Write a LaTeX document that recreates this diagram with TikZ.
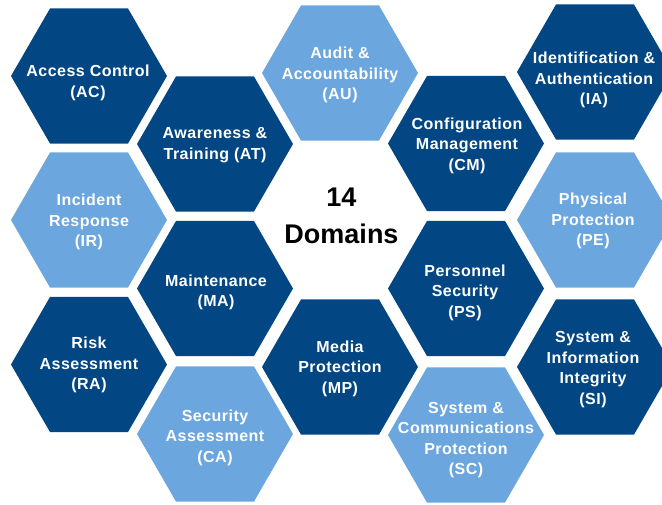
\documentclass[tikz,border=0pt]{standalone}
\usepackage{fontspec}
\setmainfont{Liberation Sans}
\newfontfamily\hexfont[LetterSpace=3]{Liberation Sans}
\usetikzlibrary{shapes.geometric}
\definecolor{navy}{RGB}{2,71,131}
\definecolor{sky}{RGB}{108,166,222}
\tikzset{
  hexbox/.style={regular polygon, regular polygon sides=6, minimum size=156pt,
    inner sep=0pt, draw=none},
  darkhex/.style={hexbox, fill=navy},
  lighthex/.style={hexbox, fill=sky},
  hexlabel/.style={text=white, align=center, inner sep=0pt,
    font=\hexfont\fontsize{16}{20.5}\selectfont\bfseries},
  titlelabel/.style={text=black, align=center, inner sep=0pt,
    font=\fontsize{27}{37}\selectfont\bfseries}
}
\begin{document}
\begin{tikzpicture}[x=1pt,y=-1pt]
\useasboundingbox (0,0) rectangle (662,504);
\fill[white] (0,0) rectangle (662,504);
\clip (0,0) rectangle (662,504);

% first column
\node[darkhex]  (ac) at (89,76) {};
\node[lighthex] (ir) at (89,220) {};
\node[darkhex]  (ra) at (89,364.5) {};
% second column
\node[darkhex]  (at) at (215,144) {};
\node[darkhex]  (ma) at (215,288.5) {};
\node[lighthex] (ca) at (215,434) {};
% third column
\node[lighthex] (au) at (340,73) {};
\node[darkhex]  (mp) at (340,367) {};
% fourth column
\node[darkhex]  (cm) at (466,143.5) {};
\node[darkhex]  (ps) at (466,288.5) {};
\node[lighthex] (sc) at (466,435) {};
% fifth column
\node[darkhex]  (ia) at (595,72) {};
\node[lighthex] (pe) at (595,220) {};
\node[darkhex]  (si) at (595,367) {};

% labels
\node[hexlabel] (ac-t) at (88,83) {Access Control\\(AC)};
\node[hexlabel] (ir-t) at (89,222) {Incident\\Response\\(IR)};
\node[hexlabel] (ra-t) at (89,365) {Risk\\Assessment\\(RA)};
\node[hexlabel] (at-t) at (215,145) {Awareness \&\\Training (AT)};
\node[hexlabel] (ma-t) at (216,292.5) {Maintenance\\(MA)};
\node[hexlabel] (ca-t) at (215,437.5) {Security\\Assessment\\(CA)};
\node[hexlabel] (au-t) at (340,75) {Audit \&\\Accountability\\(AU)};
\node[hexlabel] (mp-t) at (340,368.5) {Media\\Protection\\(MP)};
\node[hexlabel] (cm-t) at (467,145.5) {Configuration\\Management\\(CM)};
\node[hexlabel] (ps-t) at (465,292.5) {Personnel\\Security\\(PS)};
\node[hexlabel] (sc-t) at (466,440) {System \&\\Communications\\Protection\\(SC)};
\node[hexlabel] (ia-t) at (594,80) {Identification \&\\Authentication\\(IA)};
\node[hexlabel] (pe-t) at (593,221) {Physical\\Protection\\(PE)};
\node[hexlabel] (si-t) at (593,369.5) {System \&\\Information\\Integrity\\(SI)};

\node[titlelabel] (title) at (341.5,216) {14\\Domains};
\end{tikzpicture}
\end{document}
